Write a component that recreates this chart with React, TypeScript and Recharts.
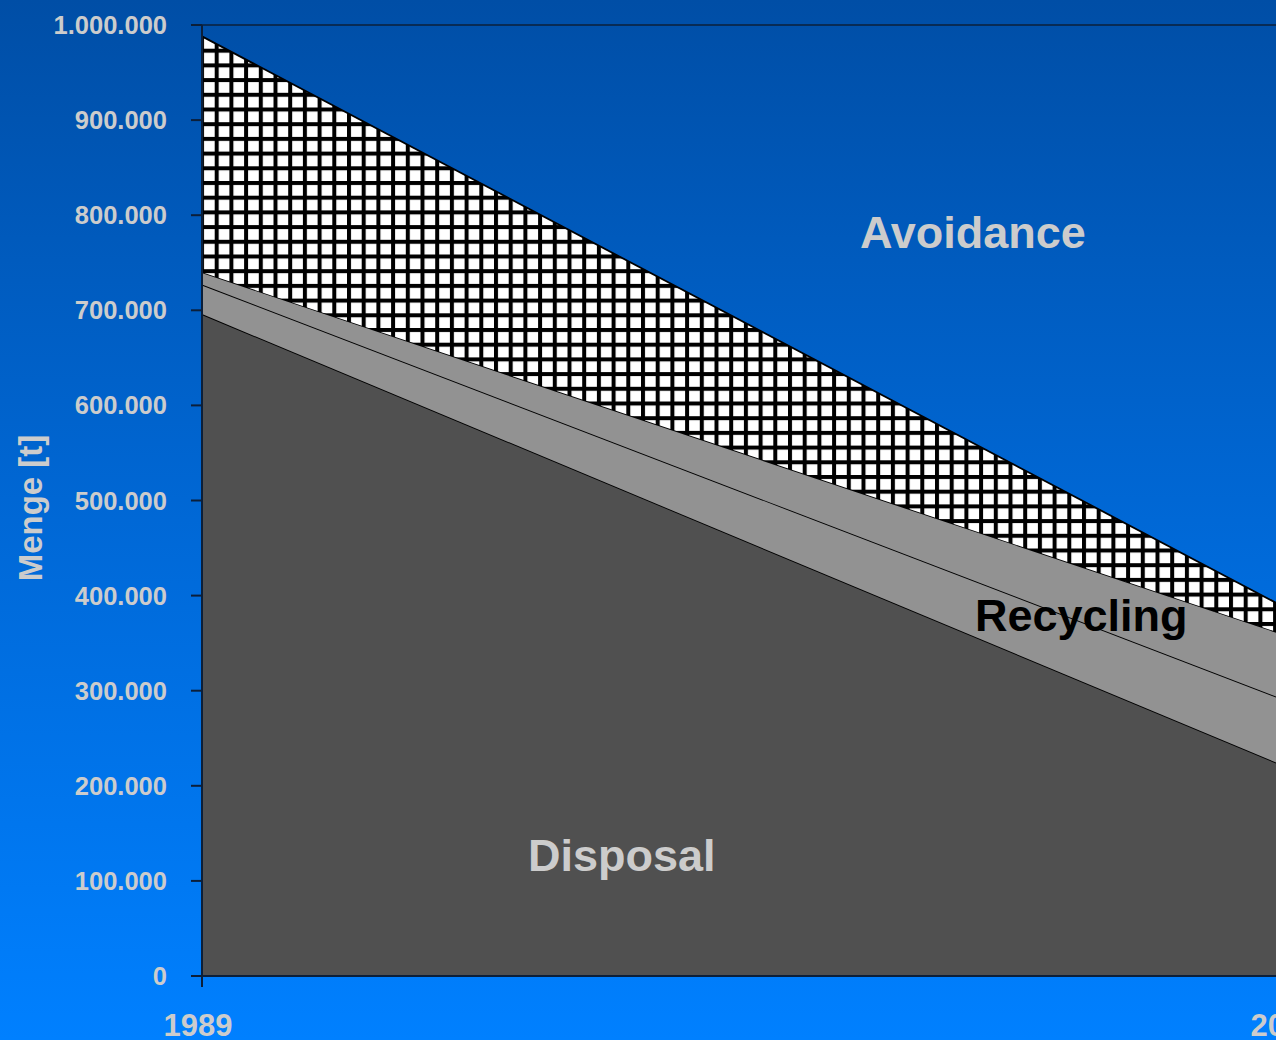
import { AreaChart, Area, XAxis, YAxis, ReferenceLine } from "recharts";

const years = [1989, 2000];
const disposal = [696000, 217000];
const recyclingLower = [31000, 70000];
const recyclingUpper = [13000, 69000];
const avoidance = [248000, 27000];
const yTicks = [0, 100000, 200000, 300000, 400000, 500000, 600000, 700000, 800000, 900000, 1000000];

const data = years.map((year, i) => ({
  year,
  disposal: disposal[i],
  recyclingLower: recyclingLower[i],
  recyclingUpper: recyclingUpper[i],
  avoidance: avoidance[i],
}));

const FONT = '"Liberation Sans", Arial, sans-serif';
const AXIS = "#0b1f3a";

const fmt = (v: number) => String(v).replace(/\B(?=(\d{3})+(?!\d))/g, ".");

const App = () => {
  return (
    <div
      style={{
        position: "fixed",
        left: 0,
        top: 0,
        width: 1276,
        height: 1040,
        overflow: "hidden",
        background: "linear-gradient(to bottom, #004ea6 0%, #0068d6 50%, #0080ff 100%)",
        fontFamily: FONT,
      }}
    >
      <svg width={0} height={0} style={{ position: "absolute" }}>
        <defs>
          <pattern id="hatch" patternUnits="userSpaceOnUse" x={200} y={4.6} width={14.7} height={14.7}>
            <rect x={0} y={0} width={14.7} height={14.7} fill="#ffffff" />
            <rect x={0} y={0} width={4} height={14.7} fill="#000000" />
            <rect x={0} y={0} width={14.7} height={4} fill="#000000" />
          </pattern>
        </defs>
      </svg>
      <AreaChart width={1320} height={1040} data={data} margin={{ top: 25, right: 27, left: 0, bottom: 0 }}>
        <XAxis
          dataKey="year"
          type="number"
          domain={[1989, 2000]}
          ticks={years}
          tickSize={11}
          tickMargin={27}
          height={64}
          stroke={AXIS}
          strokeWidth={2}
          tick={{ fill: "#cccccc", fontSize: 31, fontWeight: "bold", fontFamily: FONT, dx: -4 }}
        />
        <YAxis
          type="number"
          domain={[0, 1000000]}
          ticks={yTicks}
          tickFormatter={fmt}
          width={202}
          tickSize={11}
          tickMargin={24}
          stroke={AXIS}
          strokeWidth={2}
          tick={{ fill: "#cccccc", fontSize: 25.5, fontWeight: "bold", fontFamily: FONT }}
        />
        <ReferenceLine y={1000000} stroke={AXIS} strokeWidth={1.5} />
        <Area type="linear" dataKey="disposal" stackId="1" fill="#505050" fillOpacity={1} stroke="#000000" strokeWidth={1.8} dot={false} activeDot={false} isAnimationActive={false} />
        <Area type="linear" dataKey="recyclingLower" stackId="1" fill="#929292" fillOpacity={1} stroke="#000000" strokeWidth={1.8} dot={false} activeDot={false} isAnimationActive={false} />
        <Area type="linear" dataKey="recyclingUpper" stackId="1" fill="#929292" fillOpacity={1} stroke="#000000" strokeWidth={1.8} dot={false} activeDot={false} isAnimationActive={false} />
        <Area type="linear" dataKey="avoidance" stackId="1" fill="url(#hatch)" fillOpacity={1} stroke="#000000" strokeWidth={1.8} dot={false} activeDot={false} isAnimationActive={false} />
      </AreaChart>
      <svg width={1276} height={1040} style={{ position: "absolute", left: 0, top: 0, pointerEvents: "none" }}>
        <g fontFamily={FONT} fontWeight="bold">
          <text x={860} y={248} fontSize={45} fill="#cccccc">Avoidance</text>
          <text x={975} y={631} fontSize={45} fill="#000000">Recycling</text>
          <text x={528} y={871} fontSize={45} fill="#cccccc">Disposal</text>
          <text transform="translate(42,508) rotate(-90)" textAnchor="middle" fontSize={33} fill="#cccccc">Menge [t]</text>
        </g>
      </svg>
    </div>
  );
};

export default App;
